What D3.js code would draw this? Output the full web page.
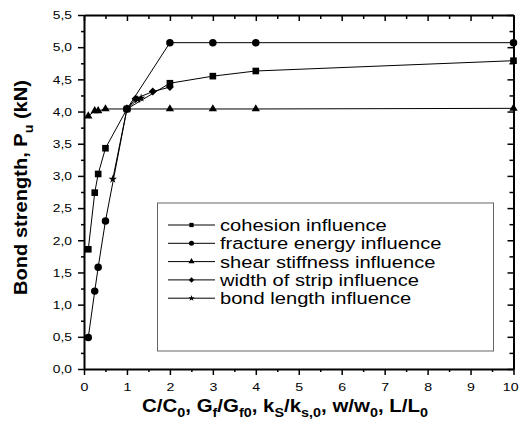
<!DOCTYPE html>
<html><head><meta charset="utf-8">
<script src="https://cdn.jsdelivr.net/npm/d3@7"></script>
<style>body{margin:0;background:#fff}svg{display:block}text{font-family:Arial,"Liberation Sans",sans-serif;fill:#000}</style>
</head><body><svg id="c" width="519" height="430"></svg>
<script>
// ---- data ----
const xTickValues = [0,1,2,3,4,5,6,7,8,9,10];
const yTickValues = [0,0.5,1,1.5,2,2.5,3,3.5,4,4.5,5,5.5];
const seriesNames = ["cohesion influence","fracture energy influence","shear stiffness influence","width of strip influence","bond length influence"];
const cohesionX = [0.1,0.25,0.33,0.5,1,2,3,4,10];
const cohesionY = [1.86,2.74,3.03,3.43,4.04,4.44,4.55,4.63,4.79];
const fractureX = [0.1,0.25,0.33,0.5,1,2,3,4,10];
const fractureY = [0.49,1.21,1.58,2.30,4.04,5.07,5.07,5.07,5.07];
const shearX = [0.1,0.25,0.33,0.5,1,2,3,4,10];
const shearY = [3.93,4.01,4.01,4.04,4.04,4.04,4.04,4.04,4.05];
const widthX = [1,1.2,1.6,2];
const widthY = [4.04,4.20,4.31,4.38];
const lengthX = [0.67,1,1.25,1.33];
const lengthY = [2.95,4.04,4.19,4.21];

const seriesX = [cohesionX, fractureX, shearX, widthX, lengthX];
const seriesY = [cohesionY, fractureY, shearY, widthY, lengthY];

const svg = d3.select("#c");
const L = 84, R = 513.5, T = 15, B = 369;
const x = d3.scaleLinear().domain([0,10]).range([L,R]);
const y = d3.scaleLinear().domain([0,5.5]).range([B,T]);

// marker generators
const symTypes = [d3.symbolSquare, d3.symbolCircle, d3.symbolTriangle, "diamond", d3.symbolStar];
const symSizes = [44, 44, 30, 32, 22];
const legSizes = [18, 20, 16, 15, 12];
function markerPath(i, size) {
  const t = symTypes[i];
  if (t === "diamond") return d3.symbol(d3.symbolSquare, size)();
  return d3.symbol(t, size)();
}
function markerRot(i) { return symTypes[i] === "diamond" ? " rotate(45)" : ""; }

// series lines and markers
const line = d3.line().x(d => x(d[0])).y(d => y(d[1]));
seriesNames.forEach((name, i) => {
  const pts = seriesX[i].map((v, k) => [v, seriesY[i][k]]);
  svg.append("path").datum(pts).attr("d", line)
    .attr("fill", "none").attr("stroke", "#000").attr("stroke-width", 1);
  svg.append("g").selectAll("path").data(pts).join("path")
    .attr("d", markerPath(i, symSizes[i]))
    .attr("transform", d => `translate(${x(d[0])},${y(d[1])})${markerRot(i)}`)
    .attr("fill", "#000");
});

// axes
const fmt = d => d3.format(".1f")(d).replace(".", ",");
const xMinor = d3.range(0.5, 10, 1);
const yMinor = d3.range(0.25, 5.5, 0.5);

function styleAxis(g) {
  g.select(".domain").attr("stroke-width", 2).attr("stroke", "#000");
  g.selectAll(".tick line").attr("stroke-width", 1.5).attr("stroke", "#000");
}

const gB = svg.append("g").attr("transform", `translate(0,${B})`)
  .call(d3.axisBottom(x).tickValues(xTickValues).tickFormat(d3.format("d")).tickSizeInner(6).tickSizeOuter(0));
gB.call(styleAxis);
gB.selectAll(".tick text").attr("font-size", 11.8).attr("font-family", "Arial, 'Liberation Sans', sans-serif")
  .attr("y", 22.5).attr("dy", 0).attr("transform", "scale(1.2,1)");
// keep the last label ("10") inside the picture edge
gB.selectAll(".tick text").filter(d => d === 10)
  .attr("text-anchor", "end").attr("x", (519 - 1 - x(10)) / 1.2);
svg.append("g").attr("transform", `translate(0,${B})`)
  .call(d3.axisBottom(x).tickValues(xMinor).tickFormat("").tickSizeInner(3).tickSizeOuter(0))
  .call(g => g.select(".domain").remove()).call(styleAxis);

const gL = svg.append("g").attr("transform", `translate(${L},0)`)
  .call(d3.axisLeft(y).tickValues(yTickValues).tickFormat(fmt).tickSizeInner(6).tickSizeOuter(0));
gL.call(styleAxis);
gL.selectAll(".tick text").attr("font-size", 11.5).attr("font-family", "Arial, 'Liberation Sans', sans-serif")
  .attr("x", -10).attr("dy", "0.33em").attr("transform", "scale(1.2,1)");
svg.append("g").attr("transform", `translate(${L},0)`)
  .call(d3.axisLeft(y).tickValues(yMinor).tickFormat("").tickSizeInner(3).tickSizeOuter(0))
  .call(g => g.select(".domain").remove()).call(styleAxis);

// top axis (ticks inward)
svg.append("g").attr("transform", `translate(0,${T})`)
  .call(d3.axisTop(x).tickValues(xTickValues).tickFormat("").tickSizeInner(-6).tickSizeOuter(0)).call(styleAxis);
svg.append("g").attr("transform", `translate(0,${T})`)
  .call(d3.axisTop(x).tickValues(xMinor).tickFormat("").tickSizeInner(-4).tickSizeOuter(0))
  .call(g => g.select(".domain").remove()).call(styleAxis);
// right axis (ticks inward)
svg.append("g").attr("transform", `translate(${R},0)`)
  .call(d3.axisRight(y).tickValues(yTickValues).tickFormat("").tickSizeInner(-6).tickSizeOuter(0)).call(styleAxis);
svg.append("g").attr("transform", `translate(${R},0)`)
  .call(d3.axisRight(y).tickValues(yMinor).tickFormat("").tickSizeInner(-4).tickSizeOuter(0))
  .call(g => g.select(".domain").remove()).call(styleAxis);

// legend
svg.append("rect").attr("x", 157.5).attr("y", 203).attr("width", 336).attr("height", 148)
  .attr("fill", "#fff").attr("stroke", "#666").attr("stroke-width", 1);
seriesNames.forEach((name, i) => {
  const ry = 225 + i * 18.3;
  svg.append("line").attr("x1", 168).attr("x2", 215).attr("y1", ry).attr("y2", ry)
    .attr("stroke", "#000").attr("stroke-width", 1);
  svg.append("path").attr("d", markerPath(i, legSizes[i]))
    .attr("transform", `translate(191.5,${ry})${markerRot(i)}`).attr("fill", "#000");
  svg.append("text").attr("transform", `translate(220,${ry + 6}) scale(1.22,1)`)
    .attr("font-size", 16.5).text(name);
});

// axis titles
function addParts(t, parts, base, sub) {
  parts.forEach(p => {
    const ts = t.append("tspan").text(p[0]);
    if (p[1]) ts.attr("font-size", sub).attr("dy", base * 0.3);
    else if (p[2]) ts.attr("dy", -base * 0.3);
  });
}
const xt = svg.append("text").attr("font-size", 18.5).attr("font-weight", "bold").attr("text-anchor", "middle");
addParts(xt, [["C/C"],["0",1],[", G",0,1],["f",1],["/G",0,1],["f0",1],[", k",0,1],["S",1],["/k",0,1],["s,0",1],[", w/w",0,1],["0",1],[", L/L",0,1],["0",1]], 18.5, 13);
const xl = xt.node().getComputedTextLength();
xt.attr("transform", `translate(285,411.7) scale(${286 / xl},1)`);

const yt = svg.append("text").attr("font-size", 18.5).attr("font-weight", "bold").attr("text-anchor", "middle");
addParts(yt, [["Bond strength, P"],["u",1],[" (kN)",0,1]], 18.5, 13);
const yl = yt.node().getComputedTextLength();
yt.attr("transform", `translate(27,187.5) rotate(-90) scale(${215 / yl},1)`);
</script></body></html>
